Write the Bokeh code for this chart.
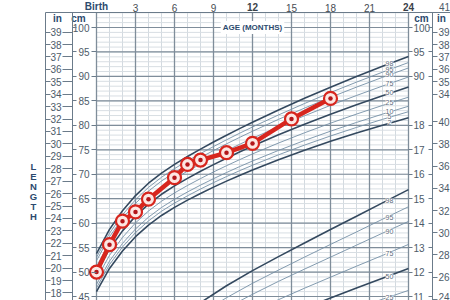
from bokeh.plotting import figure
from bokeh.models import Range1d, LinearAxis, FixedTicker, CustomJSTickFormatter
from bokeh.core.properties import value
from bokeh.embed import file_html
from bokeh.resources import INLINE

# ---------------- data ----------------
age_months = [0, 1, 2, 3, 4, 5, 6, 7, 8, 9, 10, 11, 12, 14, 16, 18, 20, 22, 24]
len_p2 = [46.00, 50.73, 54.32, 57.23, 59.61, 61.57, 63.23, 64.71, 66.07, 67.36, 68.59, 69.75, 70.87, 72.96, 74.90, 76.72, 78.42, 80.02, 81.54]
len_p5 = [46.77, 51.52, 55.13, 58.07, 60.46, 62.43, 64.10, 65.59, 66.97, 68.28, 69.52, 70.71, 71.84, 73.97, 75.96, 77.82, 79.57, 81.22, 82.79]
len_p10 = [47.46, 52.23, 55.86, 58.81, 61.22, 63.20, 64.88, 66.38, 67.77, 69.09, 70.35, 71.55, 72.70, 74.87, 76.90, 78.80, 80.59, 82.29, 83.90]
len_p25 = [48.61, 53.41, 57.08, 60.05, 62.48, 64.48, 66.18, 67.70, 69.11, 70.46, 71.74, 72.97, 74.15, 76.38, 78.47, 80.44, 82.30, 84.07, 85.76]
len_p50 = [49.88, 54.72, 58.42, 61.43, 63.89, 65.90, 67.62, 69.16, 70.60, 71.97, 73.28, 74.54, 75.75, 78.05, 80.21, 82.26, 84.20, 86.05, 87.82]
len_p75 = [51.16, 56.04, 59.77, 62.81, 65.29, 67.33, 69.07, 70.63, 72.09, 73.48, 74.82, 76.11, 77.35, 79.72, 81.95, 84.08, 86.10, 88.03, 89.88]
len_p90 = [52.31, 57.22, 60.99, 64.05, 66.55, 68.61, 70.37, 71.95, 73.43, 74.84, 76.21, 77.52, 78.79, 81.22, 83.52, 85.72, 87.81, 89.81, 91.73]
len_p95 = [53.00, 57.93, 61.72, 64.79, 67.31, 69.38, 71.14, 72.74, 74.23, 75.66, 77.04, 78.37, 79.66, 82.12, 84.46, 86.70, 88.83, 90.87, 92.84]
len_p98 = [53.77, 58.72, 62.53, 65.63, 68.16, 70.24, 72.02, 73.62, 75.13, 76.58, 77.97, 79.32, 80.63, 83.14, 85.52, 87.80, 89.98, 92.07, 94.09]

wt_months = [6, 8, 10, 12, 14, 16, 18, 20, 22, 24]
wt_p98 = [9.91, 10.75, 11.44, 12.06, 12.63, 13.19, 13.74, 14.28, 14.83, 15.37]
wt_p95 = [9.48, 10.29, 10.95, 11.54, 12.08, 12.61, 13.13, 13.64, 14.16, 14.67]
wt_p90 = [9.12, 9.90, 10.53, 11.09, 11.62, 12.12, 12.61, 13.10, 13.59, 14.07]
wt_p75 = [8.54, 9.27, 9.86, 10.38, 10.87, 11.34, 11.79, 12.24, 12.68, 13.13]
wt_p50 = [7.93, 8.62, 9.16, 9.65, 10.10, 10.52, 10.94, 11.35, 11.75, 12.15]
wt_p25 = [7.37, 8.00, 8.51, 8.96, 9.37, 9.77, 10.15, 10.52, 10.89, 11.25]

child_age = [0, 1, 2, 3, 4, 6, 7, 8, 10, 12, 15, 18]
child_len = [50.0, 55.6, 60.4, 62.3, 64.9, 69.3, 72.0, 72.9, 74.4, 76.3, 81.3, 85.5]

pct_names = ["2", "5", "10", "25", "50", "75", "90", "95", "98"]
wt_names = ["25", "50", "75", "90", "95", "98"]
month_ticks = [3, 6, 9, 15, 18, 21]
month_bold = ["Birth", "12", "24"]
month_bold_at = [0, 12, 24]
cm_ticks = [45, 50, 55, 60, 65, 70, 75, 80, 85, 90, 95, 100]
in_left_ticks = list(range(18, 40))
kg_ticks = [11, 12, 13, 14, 15, 16, 17, 18]
cm_right_labels = [90, 95, 100]
lb_ticks = [24, 26, 28, 30, 32, 34, 36, 38, 40]
in_right_labels = [34, 35, 36, 37, 38, 39]

# ---------------- layout (pixel geometry of the sheet) ----------------
FONT = "Liberation Sans"
TICK_C = "#4d5b69"
HEAD_C = "#2c4a6e"
DARK = "#34495f"
LIGHT = "#7590a6"
RED = "#d7261e"
LINE_C = "#6b7b8a"

W, H = 450, 300
PX_MONTH = 13.0      # pixels per month
X0_PX = 96.0         # pixel of birth
PX_CM = 4.891        # pixels per cm
CM100_PX = 27.0      # pixel row of 100 cm


def mx(px):
    return (px - X0_PX) / PX_MONTH


def cy(py):
    return 100 - (py - CM100_PX) / PX_CM


def cm_to_kg(c):
    return 12 + (c - 50) / 5.0


X_LO, X_HI = mx(0), mx(W)
CM_LO, CM_HI = cy(H), cy(0)
GRID_TOP = cy(12)

p = figure(width=W, height=H, output_backend="svg", toolbar_location=None,
           x_range=Range1d(X_LO, X_HI), y_range=Range1d(CM_LO, CM_HI),
           x_axis_location="above", y_axis_location="left")
p.min_border = 0
p.min_border_left = 0
p.min_border_right = 0
p.min_border_top = 0
p.min_border_bottom = 0
p.background_fill_color = "white"
p.border_fill_color = "white"
p.outline_line_color = None
p.xgrid.visible = False
p.ygrid.visible = False

p.extra_y_ranges = {
    "in": Range1d(CM_LO / 2.54, CM_HI / 2.54),
    "kg": Range1d(cm_to_kg(CM_LO), cm_to_kg(CM_HI)),
    "lb": Range1d(cm_to_kg(CM_LO) * 2.20462, cm_to_kg(CM_HI) * 2.20462),
}

# ---------------- grid of the chart ----------------
all_months = list(range(0, 25))
all_cm = list(range(44, 104))
major_months = list(range(0, 25, 3))
major_cm = list(range(45, 105, 5))
p.segment(x0=all_months, y0=[CM_LO] * len(all_months), x1=all_months, y1=[GRID_TOP] * len(all_months),
          line_color="#d3dae0", line_width=1)
p.segment(x0=[0] * len(all_cm), y0=all_cm, x1=[24] * len(all_cm), y1=all_cm,
          line_color="#d8dee3", line_width=1)
p.segment(x0=major_months, y0=[CM_LO] * len(major_months), x1=major_months, y1=[GRID_TOP] * len(major_months),
          line_color="#7f8d9a", line_width=1.3)
p.segment(x0=[0] * len(major_cm), y0=major_cm, x1=[24] * len(major_cm), y1=major_cm,
          line_color="#7f8d9a", line_width=1.2)
# top border of the sheet
p.segment(x0=[mx(45)], y0=[GRID_TOP], x1=[X_HI], y1=[GRID_TOP], line_color=LINE_C, line_width=1)


def style_axis(ax, size="10px"):
    ax.major_label_text_font = FONT
    ax.major_label_text_font_size = size
    ax.major_label_text_color = TICK_C
    ax.major_tick_line_color = LINE_C
    ax.minor_tick_line_color = None
    ax.axis_line_color = LINE_C


blank = CustomJSTickFormatter(code="return ''")

# top axis (months)
top = p.xaxis[0]
style_axis(top, "10px")
top.ticker = FixedTicker(ticks=month_ticks)
top.fixed_location = GRID_TOP
top.bounds = (0, 24)
top.major_tick_out = 0
top.major_tick_in = 0
top.axis_line_color = None
top.major_label_standoff = 1
top.major_label_text_color = "#474d54"

# left cm axis
lcm = p.yaxis[0]
style_axis(lcm)
lcm.ticker = FixedTicker(ticks=cm_ticks)
lcm.fixed_location = 0
lcm.bounds = (CM_LO, GRID_TOP)
lcm.major_tick_out = 5
lcm.major_tick_in = 0
lcm.major_label_standoff = 2
lcm.axis_line_color = None

lcm2 = LinearAxis(ticker=FixedTicker(ticks=cm_ticks), formatter=blank, fixed_location=mx(72),
                  bounds=(CM_LO, GRID_TOP))
style_axis(lcm2)
lcm2.major_tick_out = 0
lcm2.major_tick_in = 4
lcm2.major_label_standoff = 0
lcm2.axis_line_color = None
p.add_layout(lcm2, "left")

IN_BOUNDS = (CM_LO / 2.54, GRID_TOP / 2.54)
lin = LinearAxis(y_range_name="in", ticker=FixedTicker(ticks=in_left_ticks), fixed_location=mx(72),
                 bounds=IN_BOUNDS)
style_axis(lin)
lin.major_tick_out = 10
lin.major_tick_in = 0
lin.major_label_standoff = 1
p.add_layout(lin, "left")

lin2 = LinearAxis(y_range_name="in", ticker=FixedTicker(ticks=in_left_ticks), formatter=blank,
                  fixed_location=mx(45), bounds=IN_BOUNDS)
style_axis(lin2)
lin2.major_tick_out = 0
lin2.major_tick_in = 5
lin2.major_label_standoff = 0
p.add_layout(lin2, "left")

# right: kg axis with cm labels at the top
KG_BOUNDS = (cm_to_kg(CM_LO), cm_to_kg(GRID_TOP))
kg_cm_pos = [cm_to_kg(c) for c in cm_right_labels]
rkg = LinearAxis(y_range_name="kg", ticker=FixedTicker(ticks=kg_ticks + kg_cm_pos), fixed_location=24,
                 bounds=KG_BOUNDS)
style_axis(rkg)
rkg.major_label_overrides = {k: str(c) for k, c in zip(kg_cm_pos, cm_right_labels)}
rkg.major_tick_out = 4
rkg.major_tick_in = 0
rkg.major_label_standoff = 1
rkg.axis_line_color = None
p.add_layout(rkg, "right")

rkg2 = LinearAxis(y_range_name="kg", ticker=FixedTicker(ticks=kg_ticks + kg_cm_pos), formatter=blank,
                  fixed_location=mx(432), bounds=KG_BOUNDS)
style_axis(rkg2)
rkg2.major_tick_out = 0
rkg2.major_tick_in = 4
rkg2.major_label_standoff = 0
rkg2.axis_line_color = None
p.add_layout(rkg2, "right")

LB_BOUNDS = (cm_to_kg(CM_LO) * 2.20462, cm_to_kg(GRID_TOP) * 2.20462)
lb_in_pos = [cm_to_kg(i * 2.54) * 2.20462 for i in in_right_labels]
rlb = LinearAxis(y_range_name="lb", ticker=FixedTicker(ticks=lb_ticks + lb_in_pos), fixed_location=mx(432),
                 bounds=LB_BOUNDS)
style_axis(rlb)
rlb.major_label_overrides = {k: str(i) for k, i in zip(lb_in_pos, in_right_labels)}
rlb.major_tick_out = 5
rlb.major_tick_in = 0
rlb.major_label_standoff = 1
p.add_layout(rlb, "right")

# ---------------- percentile curves ----------------
len_series = [len_p2, len_p5, len_p10, len_p25, len_p50, len_p75, len_p90, len_p95, len_p98]
for name, ys in zip(pct_names, len_series):
    heavy = name in ("2", "50", "98")
    p.line(age_months, ys, line_color=DARK if heavy else LIGHT,
           line_width=1.6 if heavy else 0.9)

wt_series = [wt_p25, wt_p50, wt_p75, wt_p90, wt_p95, wt_p98]
for name, ys in zip(wt_names, wt_series):
    heavy = name in ("50", "98")
    p.line(wt_months, ys, y_range_name="kg", line_color=DARK if heavy else LIGHT,
           line_width=1.6 if heavy else 0.9)

# curve labels near month 22
i22 = age_months.index(22)
p.text(x=[age_months[i22]] * 9, y=[s[i22] for s in len_series], text=pct_names,
       x_offset=7, y_offset=-3, text_font=value(FONT), text_font_size="7px",
       text_color="#5b6b7a", text_align="center", text_baseline="middle",
       background_fill_color="white", padding=0)
j22 = wt_months.index(22)
p.text(x=[wt_months[j22]] * 6, y=[s[j22] for s in wt_series], text=wt_names,
       y_range_name="kg", x_offset=7, y_offset=-2, text_font=value(FONT),
       text_font_size="7px", text_color="#5b6b7a", text_align="center",
       text_baseline="middle", background_fill_color="white", padding=0)

# AGE (MONTHS)
p.text(x=[12], y=[100], text=["AGE (MONTHS)"], text_font=value(FONT),
       text_font_size="8px", text_font_style="bold", text_color=HEAD_C,
       text_align="center", text_baseline="middle",
       background_fill_color="white", padding=2)

# child's measurements
p.line(child_age, child_len, line_color=RED, line_width=4.5)
p.scatter(child_age, child_len, size=13, fill_color="#fde6e2", line_color=RED, line_width=2.2)
p.scatter(child_age, child_len, size=4.5, fill_color="#b3161a", line_color=None)

# ---------------- header texts ----------------
p.text(x=month_bold_at, y=[cy(6)] * 3, text=month_bold, text_font=value(FONT),
       text_font_size="10px", text_font_style="bold",
       text_color=[HEAD_C, "#3a4148", "#3a4148"], text_align="center", text_baseline="middle")
p.text(x=[mx(57), mx(78), mx(421), mx(441)], y=[cy(18)] * 4, text=["in", "cm", "cm", "in"],
       text_font=value(FONT), text_font_size="10px", text_font_style="bold",
       text_color=HEAD_C, text_align="center", text_baseline="middle")
p.text(x=[mx(444)], y=[41 * 2.54], text=["41"], text_font=value(FONT), text_font_size="10px",
       text_color=TICK_C, text_align="center", text_baseline="middle")
p.text(x=[mx(33)] * 6, y=[cy(166 + 10 * k) for k in range(6)], text=list("LENGTH"),
       text_font=value(FONT), text_font_size="9.5px", text_font_style="bold",
       text_color=HEAD_C, text_align="center", text_baseline="middle")

open("out.html", "w").write(file_html(p, INLINE))
